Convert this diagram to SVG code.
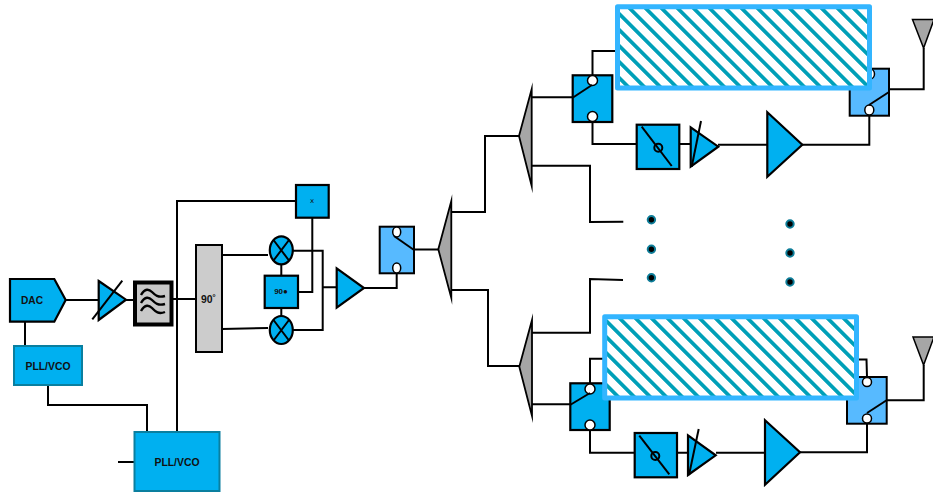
<svg xmlns="http://www.w3.org/2000/svg" width="933" height="493" viewBox="0 0 933 493">
<style>
text{font-family:"Liberation Sans",Arial,sans-serif;font-weight:bold;fill:#111;text-anchor:middle;dominant-baseline:central}
.w{fill:none;stroke:#000;stroke-width:2}
.b{fill:#00b0f0;stroke:#000;stroke-width:2.2;stroke-linejoin:miter}
.l{fill:#57baff;stroke:#000;stroke-width:2}
.g{fill:#a6a6a6;stroke:#000;stroke-width:1.8;stroke-miterlimit:20}
.p{fill:#00b0f0;stroke:#0a7f9f;stroke-width:2}
.c{fill:#fff;stroke:#000;stroke-width:1.5}
.d{fill:#000;stroke:#0d7d99;stroke-width:2}
.h{fill:url(#hatch);stroke:#33b5ff;stroke-width:5;stroke-linejoin:round}
</style>
<defs>
<pattern id="hatch" width="11.314" height="11.314" patternUnits="userSpaceOnUse" patternTransform="rotate(45)">
<rect width="11.314" height="11.314" fill="#fff"/>
<rect width="11.314" height="3.6" fill="#00a0b8" shape-rendering="crispEdges"/>
</pattern>
</defs>
<g id="connectors">
<path class="w" d="M65.7 300H98M126 300H134M172 299H196M25 322V346M48 385V405H147V432M118 462H134.5M177 432V201H296"/>
<path class="w" d="M222 255H268M222 329L268 328M281.3 264V276M281.3 308V316M312.3 218V292H298M293 250.7H322.7V330H293M322.7 287.3H336.7M364 288H396.7V268M414 249.5H438.3"/>
<path class="w" d="M451 212H485V136H519M451 290H488V366H519"/>
<path class="w" d="M531 97.3H573M531 165.7H590V222L623.3 221.7M623 280L590 279V332.7H531M531 404.3H571"/>
<path class="w" d="M592.5 76V51H616M592.5 122V144H637M679 144H691M718 144.7H767M802 144.7H869.3V116M889 89.3H923.7V48"/>
<path class="w" d="M590 384V358.7H606M590 430V452.7H635M677 452.7H688M716 452.7H765M800 452.3H867V424M886.7 400.3H923.7V365M859 359.5H866.5L867 377"/>
</g>
<g id="dac"><path class="b" d="M10 279H54.3L65.7 300L54.3 321.7H10Z"/><text x="32" y="300.5" font-size="10.2">DAC</text></g>
<g id="vga1"><path class="b" d="M98.7 281L126 299.7L98.7 320Z"/><path class="w" d="M92.3 319.3L122.3 280.7"/></g>
<g id="filter"><rect x="135" y="282.5" width="36.5" height="42" fill="#c8c8c8" stroke="#000" stroke-width="4"/>
<path d="M141 295C145 288 149 289 152 292S158 298 165 296M141 303C145 296 149 297 152 300S158 306 165 304M141 311C145 304 149 305 152 308S158 315 165 312" fill="none" stroke="#000" stroke-width="2.4"/></g>
<g id="pll1"><rect class="p" x="14" y="346" width="68" height="39"/><text x="48" y="366.5" font-size="10.4">PLL/VCO</text></g>
<g id="pll2"><rect class="p" x="134.5" y="432" width="85" height="59"/><text x="177" y="462.5" font-size="10.4">PLL/VCO</text></g>
<g id="hybrid"><rect x="196" y="245" width="26" height="107" fill="#ccc" stroke="#000" stroke-width="2"/><text x="208.5" y="299.5" font-size="10.4">90˚</text></g>
<g id="xbox"><rect class="b" x="296" y="185" width="32.7" height="32.7" stroke-width="2"/><text x="312" y="201" font-size="7" style="font-family:'DejaVu Sans',sans-serif;font-weight:normal">x</text></g>
<g id="mixer1"><ellipse class="b" cx="281.3" cy="250.3" rx="11.5" ry="14"/><path class="w" d="M273.5 240L289 260.5M289 240L273.5 260.5"/></g>
<g id="mixer2"><ellipse class="b" cx="281.3" cy="330" rx="11.5" ry="14"/><path class="w" d="M273.5 320L289 340.5M289 320L273.5 340.5"/></g>
<g id="ps90"><rect class="b" x="264.7" y="275.7" width="33.3" height="32.3" stroke-width="2"/><text x="281" y="291.5" font-size="8">90●</text></g>
<g id="amp"><path class="b" d="M336.7 268.3L364 288L336.7 307.7Z"/></g>
<g id="switch0"><rect class="l" x="379.7" y="226.7" width="34.3" height="46.6"/><ellipse class="c" cx="396.7" cy="232" rx="4" ry="5"/><ellipse class="c" cx="396.7" cy="268" rx="4" ry="5"/><path class="w" d="M394 236L414 250"/></g>
<g id="split0"><path class="g" d="M438.3 249.3L451.3 201V298Z"/></g>
<g id="split1"><path class="g" d="M519 136L531.7 89V186Z"/></g>
<g id="split2"><path class="g" d="M519.3 366.7L532 320V416Z"/></g>
<g id="switch1"><rect class="b" x="572.7" y="75.3" width="39.6" height="46.7" stroke-width="2"/><circle class="c" cx="592.5" cy="80.5" r="5"/><circle class="c" cx="592.5" cy="116.5" r="5"/><path class="w" d="M573 97.5L592 85"/></g>
<g id="phase1"><rect class="b" x="636.7" y="124.7" width="42.6" height="44.3" stroke-width="2"/><path class="w" d="M641.7 126.7L671.7 166"/><circle class="w" cx="658.3" cy="147.7" r="4"/></g>
<g id="vga2"><path class="b" d="M690.7 127.3L718.3 146.7L690.7 166.7Z"/><path class="w" d="M701 121L691.7 166.7"/></g>
<g id="pa1"><path class="b" d="M767.3 112.3L802.3 144.7L767.3 176.7Z"/></g>
<g id="switch2"><rect class="l" x="849.7" y="68.7" width="39.3" height="47"/><ellipse class="c" cx="870" cy="74" rx="4.5" ry="5"/><ellipse class="c" cx="869.3" cy="110" rx="4.5" ry="5"/><path class="w" d="M869 105L889 92"/></g>
<g id="ant1"><path d="M912.5 19.5H934L923.6 48Z" fill="#a6a6a6" stroke="#000" stroke-width="1.5"/></g>
<g id="switch3"><rect class="b" x="570.3" y="383.3" width="39.4" height="46.7" stroke-width="2"/><circle class="c" cx="590" cy="389" r="5"/><circle class="c" cx="590" cy="425" r="5"/><path class="w" d="M570 405L590 393"/></g>
<g id="phase2"><rect class="b" x="634.7" y="433" width="42.3" height="44.3" stroke-width="2"/><path class="w" d="M639.3 435.7L669.3 474.3"/><circle class="w" cx="655.3" cy="456" r="4"/></g>
<g id="vga3"><path class="b" d="M688 435.3L715.7 455.3L688 475Z"/><path class="w" d="M698.7 429L689 475"/></g>
<g id="pa2"><path class="b" d="M765 420.3L800 452.3L765 484.7Z"/></g>
<g id="switch4"><rect class="l" x="847" y="377" width="39.7" height="46.7"/><circle class="c" cx="867" cy="382" r="4.5"/><circle class="c" cx="867" cy="418.5" r="4.5"/><path class="w" d="M867 413L887 400"/></g>
<g id="ant2"><path d="M913 337H934L923.6 365Z" fill="#a6a6a6" stroke="#000" stroke-width="1.5"/></g>
<g id="dots"><circle class="d" cx="651.4" cy="219.7" r="3.7"/><circle class="d" cx="651.4" cy="249.3" r="3.7"/><circle class="d" cx="651.4" cy="277.7" r="3.7"/><circle class="d" cx="790" cy="224" r="3.7"/><circle class="d" cx="790" cy="253" r="3.7"/><circle class="d" cx="790" cy="282" r="3.7"/></g>
<g id="block1"><rect class="h" x="617.5" y="6.8" width="252" height="81.2"/></g>
<g id="block2"><rect class="h" x="604.7" y="316.8" width="251.8" height="81.2"/></g>
</svg>
